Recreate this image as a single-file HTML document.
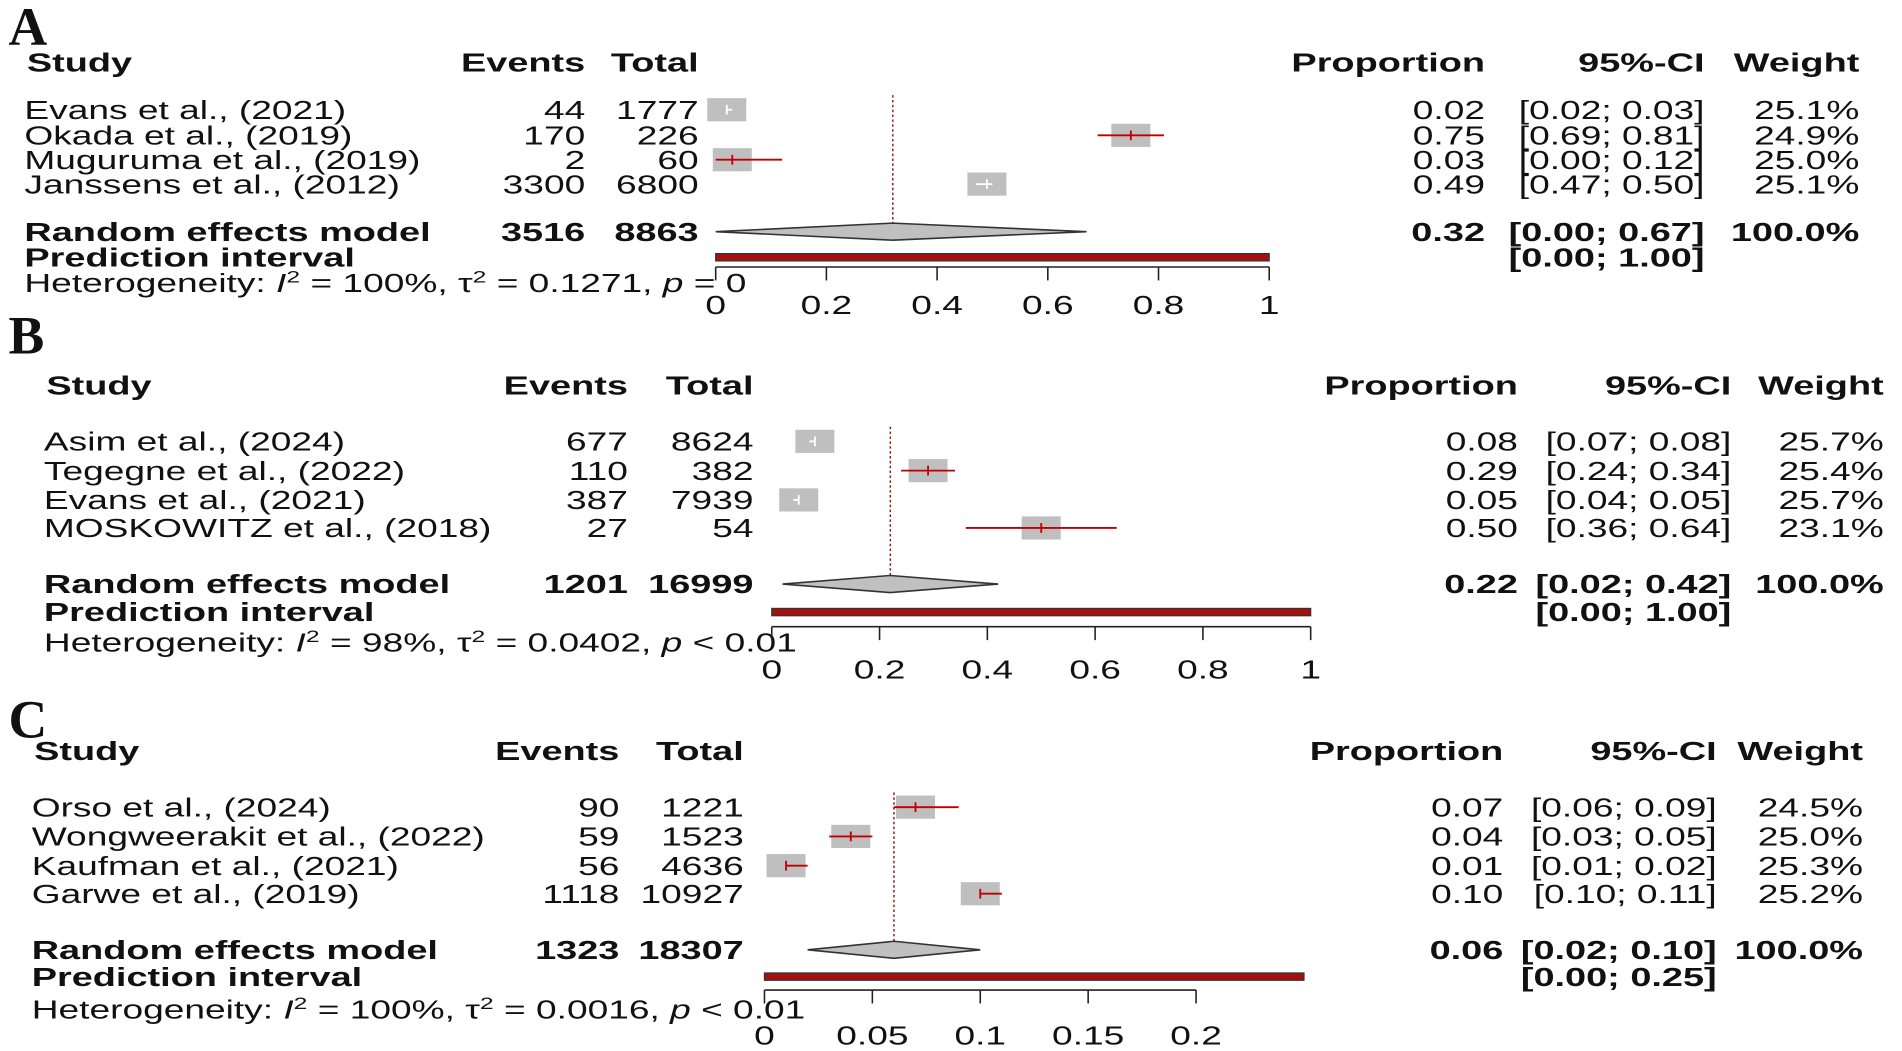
<!DOCTYPE html>
<html><head><meta charset="utf-8">
<style>
html,body{margin:0;padding:0;background:#fff;}
svg{display:block;}
text{font-family:"Liberation Sans",Arial,sans-serif;fill:#111;}
.serif{font-family:"Liberation Serif","Times New Roman",serif;}
</style></head>
<body>
<svg id="chart" xmlns="http://www.w3.org/2000/svg" width="1902" height="1051" viewBox="0 0 1560 862" preserveAspectRatio="none"></svg>
<script>
// ---------- Panel A data ----------
const studiesA = ["Evans et al., (2021)","Okada et al., (2019)","Muguruma et al., (2019)","Janssens et al., (2012)"];
const eventsA = [44,170,2,3300];
const totalsA = [1777,226,60,6800];
const propA = [0.02,0.75,0.03,0.49];
const loA = [0.02,0.69,0.00,0.47];
const hiA = [0.03,0.81,0.12,0.50];
const weightA = ["25.1%","24.9%","25.0%","25.1%"];
const modelA = [0.32,0.00,0.67];
const modelCountsA = [3516,8863];
const predA = [0.00,1.00];
const hetA = ["100%","0.1271","= 0"];
const ticksA = [0,0.2,0.4,0.6,0.8,1];
const tickLabelsA = ["0","0.2","0.4","0.6","0.8","1"];
// ---------- Panel B data ----------
const studiesB = ["Asim et al., (2024)","Tegegne et al., (2022)","Evans et al., (2021)","MOSKOWITZ et al., (2018)"];
const eventsB = [677,110,387,27];
const totalsB = [8624,382,7939,54];
const propB = [0.08,0.29,0.05,0.50];
const loB = [0.07,0.24,0.04,0.36];
const hiB = [0.08,0.34,0.05,0.64];
const weightB = ["25.7%","25.4%","25.7%","23.1%"];
const modelB = [0.22,0.02,0.42];
const modelCountsB = [1201,16999];
const predB = [0.00,1.00];
const hetB = ["98%","0.0402","< 0.01"];
const ticksB = [0,0.2,0.4,0.6,0.8,1];
const tickLabelsB = ["0","0.2","0.4","0.6","0.8","1"];
// ---------- Panel C data ----------
const studiesC = ["Orso et al., (2024)","Wongweerakit et al., (2022)","Kaufman et al., (2021)","Garwe et al., (2019)"];
const eventsC = [90,59,56,1118];
const totalsC = [1221,1523,4636,10927];
const propC = [0.07,0.04,0.01,0.10];
const loC = [0.06,0.03,0.01,0.10];
const hiC = [0.09,0.05,0.02,0.11];
const weightC = ["24.5%","25.0%","25.3%","25.2%"];
const modelC = [0.06,0.02,0.10];
const modelCountsC = [1323,18307];
const predC = [0.00,0.25];
const hetC = ["100%","0.0016","< 0.01"];
const ticksC = [0,0.05,0.1,0.15,0.2];
const tickLabelsC = ["0","0.05","0.1","0.15","0.2"];

const NS = "http://www.w3.org/2000/svg";
const svg = document.getElementById('chart');
const FS = 21, SX = 1.45, SXB = 1.48, BL = 7.5;

function el(tag, parent){ const e = document.createElementNS(NS, tag); parent.appendChild(e); return e; }
function txt(parent, x, y, str, anchor, bold, name){
  const t = el('text', parent);
  t.setAttribute('transform', `translate(${x},${y + BL}) scale(${bold ? SXB : SX},1)`);
  t.setAttribute('font-size', FS);
  t.setAttribute('text-anchor', anchor);
  if (bold) t.setAttribute('font-weight', 'bold');
  t.textContent = str;
  
  
  return t;
}
const f2 = v => v.toFixed(2);

function panel(cfg, d){
  const g = el('g', svg);
  
  
  const X = v => cfg.x0 + (v - cfg.dmin) / (cfg.dmax - cfg.dmin) * (cfg.x1 - cfg.x0);
  const c = cfg.cols;
  const L = el('text', g);
  L.setAttribute('x', 7); L.setAttribute('y', cfg.labelY);
  L.setAttribute('font-size', 44); L.setAttribute('font-weight', 'bold');
  L.setAttribute('class', 'serif');
  L.textContent = cfg.letter;
  
  
  txt(g, c.study, cfg.headY, 'Study', 'start', true, 'header-study');
  txt(g, c.ev, cfg.headY, 'Events', 'end', true, 'header-events');
  txt(g, c.tot, cfg.headY, 'Total', 'end', true, 'header-total');
  txt(g, c.prop, cfg.headY, 'Proportion', 'end', true, 'header-proportion');
  txt(g, c.ci, cfg.headY, '95%-CI', 'end', true, 'header-ci');
  txt(g, c.w, cfg.headY, 'Weight', 'end', true, 'header-weight');
  const dl = el('line', g);
  dl.setAttribute('x1', X(d.model[0])); dl.setAttribute('x2', X(d.model[0]));
  dl.setAttribute('y1', cfg.rowsY[0] - 12); dl.setAttribute('y2', cfg.reY + 6);
  dl.setAttribute('stroke', '#8b1a1a'); dl.setAttribute('stroke-width', 1.2);
  dl.setAttribute('stroke-dasharray', '2,2');
  
  
  d.studies.forEach((s, i) => {
    const y = cfg.rowsY[i];
    txt(g, c.study - 2, y, s, 'start', false, 'study-name');
    txt(g, c.ev, y, String(d.events[i]), 'end', false, 'study-events');
    txt(g, c.tot, y, String(d.totals[i]), 'end', false, 'study-total');
    txt(g, c.prop, y, f2(d.prop[i]), 'end', false, 'study-proportion');
    txt(g, c.ci, y, '[' + f2(d.lo[i]) + '; ' + f2(d.hi[i]) + ']', 'end', false, 'study-ci');
    txt(g, c.w, y, d.weight[i], 'end', false, 'study-weight');
    const cx = X(d.prop[i]), bw = 32, bh = 19;
    const sq = el('rect', g);
    sq.setAttribute('x', cx - bw / 2); sq.setAttribute('y', y - bh / 2);
    sq.setAttribute('width', bw); sq.setAttribute('height', bh);
    sq.setAttribute('fill', '#bfbfbf');
    
    
    const xl = X(d.lo[i]), xh = X(d.hi[i]);
    const outside = (xl < cx - bw / 2 - 1) || (xh > cx + bw / 2 + 1);
    const col = outside ? '#c00000' : '#ffffff';
    const ln = el('line', g);
    ln.setAttribute('x1', xl); ln.setAttribute('x2', xh);
    ln.setAttribute('y1', y); ln.setAttribute('y2', y);
    ln.setAttribute('stroke', col); ln.setAttribute('stroke-width', 1.5);
    
    
    const tk = el('line', g);
    tk.setAttribute('x1', cx); tk.setAttribute('x2', cx);
    tk.setAttribute('y1', y - 4); tk.setAttribute('y2', y + 4);
    tk.setAttribute('stroke', col); tk.setAttribute('stroke-width', 1.5);
    
    
  });
  txt(g, c.study - 2, cfg.reY, 'Random effects model', 'start', true, 'model-label');
  txt(g, c.ev, cfg.reY, String(d.mcounts[0]), 'end', true, 'model-events');
  txt(g, c.tot, cfg.reY, String(d.mcounts[1]), 'end', true, 'model-total');
  txt(g, c.prop, cfg.reY, f2(d.model[0]), 'end', true, 'model-proportion');
  txt(g, c.ci, cfg.reY, '[' + f2(d.model[1]) + '; ' + f2(d.model[2]) + ']', 'end', true, 'model-ci');
  txt(g, c.w, cfg.reY, '100.0%', 'end', true, 'model-weight');
  const dm = el('polygon', g);
  const my = cfg.reY;
  dm.setAttribute('points', `${X(d.model[1])},${my} ${X(d.model[0])},${my - 7} ${X(d.model[2])},${my} ${X(d.model[0])},${my + 7}`);
  dm.setAttribute('fill', '#c0c0c0'); dm.setAttribute('stroke', '#333'); dm.setAttribute('stroke-width', 1.3);
  
  
  txt(g, c.study - 2, cfg.piY, 'Prediction interval', 'start', true, 'prediction-label');
  txt(g, c.ci, cfg.piY, '[' + f2(d.pred[0]) + '; ' + f2(d.pred[1]) + ']', 'end', true, 'prediction-ci');
  const pb = el('rect', g);
  pb.setAttribute('x', X(d.pred[0])); pb.setAttribute('y', cfg.piY - 3);
  pb.setAttribute('width', X(d.pred[1]) - X(d.pred[0])); pb.setAttribute('height', 6);
  pb.setAttribute('fill', '#a50f0f'); pb.setAttribute('stroke', '#333'); pb.setAttribute('stroke-width', 1);
  
  
  const h = el('text', g);
  h.setAttribute('transform', `translate(${c.study - 2},${cfg.hetY + BL}) scale(${SX},1)`);
  h.setAttribute('font-size', FS);
  
  
  h.innerHTML = `Heterogeneity: <tspan font-style="italic">I</tspan><tspan dy="-8" font-size="14">2</tspan><tspan dy="8"> = ${d.het[0]}, τ</tspan><tspan dy="-8" font-size="14">2</tspan><tspan dy="8"> = ${d.het[1]}, </tspan><tspan font-style="italic">p</tspan> ${d.het[2]}`;
  const ax = el('line', g);
  ax.setAttribute('x1', X(d.ticks[0])); ax.setAttribute('x2', X(d.ticks[d.ticks.length - 1]));
  ax.setAttribute('y1', cfg.axisY); ax.setAttribute('y2', cfg.axisY);
  ax.setAttribute('stroke', '#222'); ax.setAttribute('stroke-width', 1.3);
  
  
  d.ticks.forEach((v, i) => {
    const tl = el('line', g);
    tl.setAttribute('x1', X(v)); tl.setAttribute('x2', X(v));
    tl.setAttribute('y1', cfg.axisY); tl.setAttribute('y2', cfg.axisY + 11);
    tl.setAttribute('stroke', '#222'); tl.setAttribute('stroke-width', 1.3);
    
    
    txt(g, X(v), cfg.tickLabY, d.tickLabels[i], 'middle', false, 'x-tick-label');
  });
}

panel({letter:'A', labelY:37, headY:51, rowsY:[90,111,131,151], reY:190, piY:211, hetY:232, axisY:219, tickLabY:250,
  x0:587, x1:1041, dmin:0, dmax:1, cols:{study:22, ev:480, tot:573, prop:1218, ci:1398, w:1525}},
  {studies:studiesA, events:eventsA, totals:totalsA, prop:propA, lo:loA, hi:hiA, weight:weightA, model:modelA, mcounts:modelCountsA, pred:predA, het:hetA, ticks:ticksA, tickLabels:tickLabelsA});
panel({letter:'B', labelY:290, headY:316, rowsY:[362,386,410,433], reY:479, piY:502, hetY:527, axisY:514, tickLabY:549,
  x0:633, x1:1075, dmin:0, dmax:1, cols:{study:38, ev:515, tot:618, prop:1245, ci:1420, w:1545}},
  {studies:studiesB, events:eventsB, totals:totalsB, prop:propB, lo:loB, hi:hiB, weight:weightB, model:modelB, mcounts:modelCountsB, pred:predB, het:hetB, ticks:ticksB, tickLabels:tickLabelsB});
panel({letter:'C', labelY:605, headY:616, rowsY:[662,686,710,733], reY:779, piY:801, hetY:828, axisY:812, tickLabY:849,
  x0:627, x1:981, dmin:0, dmax:0.2, cols:{study:28, ev:508, tot:610, prop:1233, ci:1408, w:1528}},
  {studies:studiesC, events:eventsC, totals:totalsC, prop:propC, lo:loC, hi:hiC, weight:weightC, model:modelC, mcounts:modelCountsC, pred:predC, het:hetC, ticks:ticksC, tickLabels:tickLabelsC});
</script>
</body></html>
